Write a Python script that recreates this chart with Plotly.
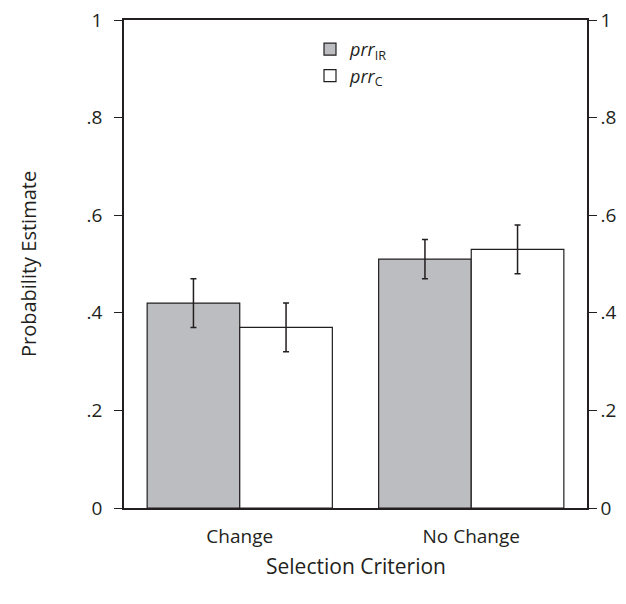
import plotly.graph_objects as go

categories = ["Change", "No Change"]
prr_ir = [0.42, 0.51]
prr_ir_err = [0.05, 0.04]
prr_c = [0.37, 0.53]
prr_c_err = [0.05, 0.05]
tick_vals = [0, 0.2, 0.4, 0.6, 0.8, 1]
tick_text = ["0", ".2", ".4", ".6", ".8", "1"]

ink = "#231f20"
fam = "Open Sans"
tickfont = dict(family=fam, size=19, color=ink)

# page body has an 8px margin; figure size compensates so the window shows plot as reference
W, H = 610, 588
L, T = 116, 12
R = W - (587 - 8)
B = H - (508 - 8)
PW = W - L - R
PH = H - T - B

fig = go.Figure()
fig.add_trace(go.Bar(
    x=categories, y=prr_ir, name="<i>prr</i><sub>IR</sub>",
    marker=dict(color="#bcbdc0", line=dict(color=ink, width=1.2)),
    error_y=dict(type="data", array=prr_ir_err, color=ink, thickness=1.5, width=3),
))
fig.add_trace(go.Bar(
    x=categories, y=prr_c, name="<i>prr</i><sub>C</sub>",
    marker=dict(color="white", line=dict(color=ink, width=1.2)),
    error_y=dict(type="data", array=prr_c_err, color=ink, thickness=1.5, width=3),
))
# invisible trace to anchor right axis
fig.add_trace(go.Scatter(x=categories, y=prr_c, yaxis="y2", mode="markers",
                         marker=dict(opacity=0), showlegend=False, hoverinfo="skip"))

fig.update_layout(
    width=W, height=H,
    margin=dict(l=L, r=R, t=T, b=B, autoexpand=False),
    paper_bgcolor="white", plot_bgcolor="white",
    font=dict(family=fam, size=19, color=ink),
    barmode="group", bargap=0.2, bargroupgap=0,
    showlegend=True,
    legend=dict(x=(310 - 124) / 463, y=1 - (31 - 20) / 488, xanchor="left", yanchor="top",
                bgcolor="rgba(0,0,0,0)", font=dict(family=fam, size=18, color=ink),
                tracegroupgap=0, itemwidth=30),
    xaxis=dict(
        range=[-0.5, 1.5], showline=True, linecolor=ink, linewidth=1.5, mirror=True,
        ticks="", showgrid=False, zeroline=False, automargin=False,
        ticklabelstandoff=10, tickfont=tickfont,
    ),
    yaxis=dict(
        range=[0, 1], tickvals=tick_vals, ticktext=tick_text, ticks="outside",
        ticklen=8, tickwidth=1, tickcolor=ink, showline=True, linecolor=ink, linewidth=1.5,
        showgrid=False, zeroline=False, ticklabelstandoff=8, automargin=False,
        ticklabeloverflow="allow", tickfont=tickfont,
    ),
    yaxis2=dict(
        range=[0, 1], tickvals=tick_vals, ticktext=tick_text, ticks="outside",
        ticklen=8, tickwidth=1, tickcolor=ink, showline=True, linecolor=ink, linewidth=1.5,
        showgrid=False, zeroline=False, overlaying="y", side="right", ticklabelstandoff=0,
        automargin=False, ticklabeloverflow="allow", tickfont=tickfont,
    ),
    annotations=[
        dict(text="Selection Criterion", xref="paper", yref="paper", x=0.5, y=-58 / PH,
             xanchor="center", yanchor="middle", showarrow=False,
             font=dict(family=fam, size=21, color=ink)),
        dict(text="Probability Estimate", xref="paper", yref="paper", x=-96 / PW, y=0.5,
             xanchor="center", yanchor="middle", showarrow=False, textangle=-90,
             font=dict(family=fam, size=20, color=ink)),
    ],
)

fig.write_html("out.html")
